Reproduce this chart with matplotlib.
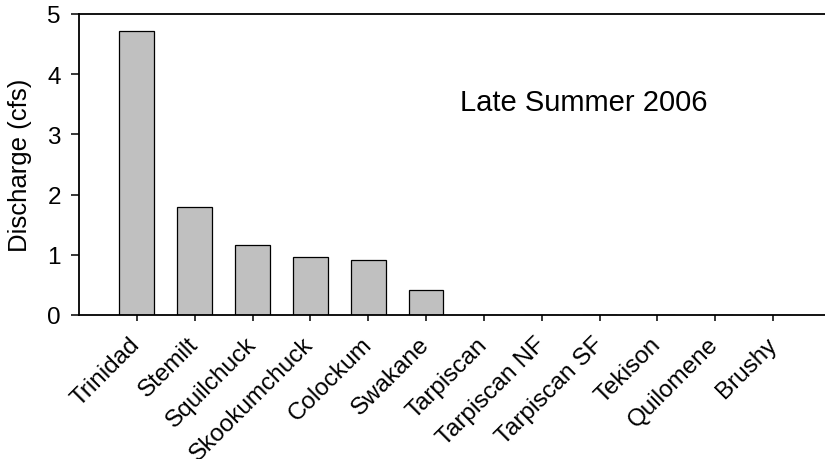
import matplotlib
matplotlib.use("Agg")
import matplotlib.pyplot as plt

plt.rcParams['font.family'] = ['Liberation Sans', 'DejaVu Sans']

categories = ["Trinidad", "Stemilt", "Squilchuck", "Skookumchuck", "Colockum",
              "Swakane", "Tarpiscan", "Tarpiscan NF", "Tarpiscan SF", "Tekison",
              "Quilomene", "Brushy"]
discharge = [4.71, 1.80, 1.17, 0.97, 0.92, 0.42, 0, 0, 0, 0, 0, 0]
yticks = [0, 1, 2, 3, 4, 5]
annotation = "Late Summer 2006"

fig = plt.figure(figsize=(8.25, 4.6), dpi=100)
ax = fig.add_axes([79/825, (460-316)/460, (831-79)/825, 301/460])

x = list(range(len(categories)))
ax.bar(x, discharge, width=0.6, color='#c0c0c0', edgecolor='black', linewidth=0.9, zorder=2)

ax.set_xlim(-1, len(categories))
ax.set_ylim(0, 5)
ax.set_yticks(yticks)
ax.set_xticks(x)
ax.set_xticklabels(categories, rotation=45, ha='right', va='center',
                   rotation_mode='anchor', fontsize=17.5)
ax.tick_params(axis='y', labelsize=17.5, length=6, width=1.1, pad=7)
ax.tick_params(axis='x', length=4.5, width=1.1, pad=14)
ax.set_ylabel("Discharge (cfs)", fontsize=18.5, labelpad=11)

for s in ['left', 'bottom', 'top']:
    ax.spines[s].set_linewidth(1.3)
ax.spines['right'].set_visible(False)

ax.text(5.59, 3.53, annotation, fontsize=21, ha='left', va='center')

fig.savefig("out.png", dpi=100)
